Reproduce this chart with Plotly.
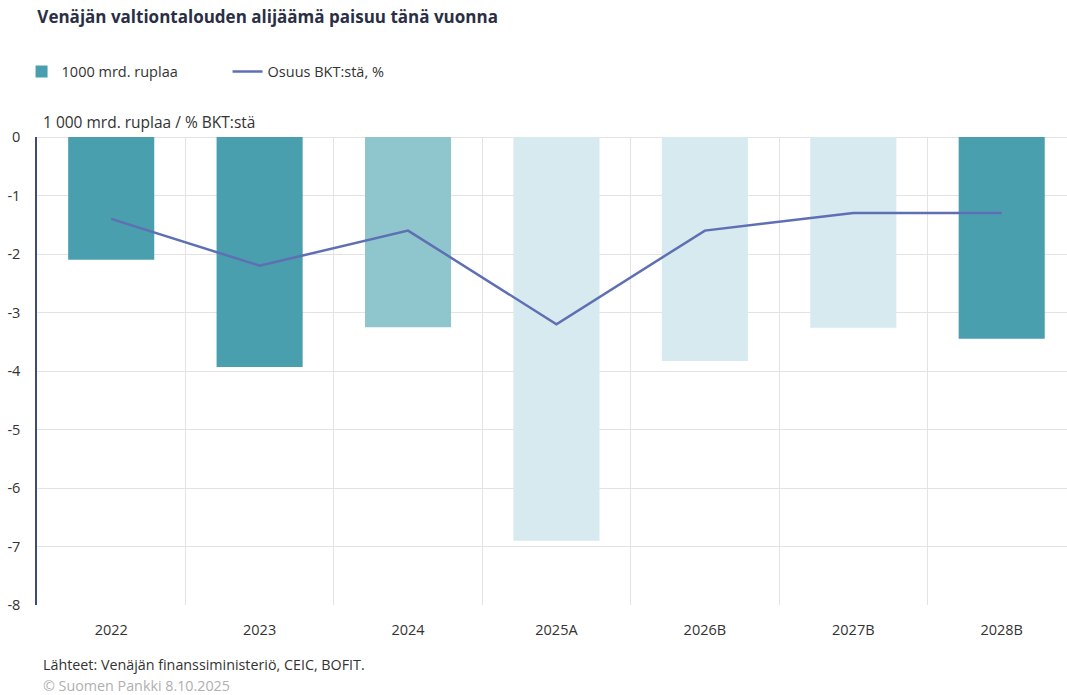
import plotly.graph_objects as go

categories = ["2022", "2023", "2024", "2025A", "2026B", "2027B", "2028B"]
deficit_trn_rub = [-2.1, -3.93, -3.25, -6.9, -3.83, -3.26, -3.45]
share_of_gdp = [-1.4, -2.2, -1.6, -3.2, -1.6, -1.3, -1.3]
bar_colors = ["#4a9fae", "#4a9fae", "#8fc6ce", "#d6eaef", "#d6eaef", "#d6eaef", "#4a9fae"]
y_ticks = [0, -1, -2, -3, -4, -5, -6, -7, -8]
y_ticktext = ["0", "-1", "-2", "-3", "-4", "-5", "-6", "-7", "-8"]

FONT = "Open Sans"
xpos = list(range(len(categories)))

fig = go.Figure()
fig.add_trace(go.Bar(
    x=xpos, y=deficit_trn_rub, name="1000 mrd. ruplaa",
    marker=dict(color=bar_colors, line=dict(width=0)), width=0.58,
))
fig.add_trace(go.Scatter(
    x=xpos, y=share_of_gdp, name="Osuus BKT:stä, %", mode="lines",
    line=dict(color="#5f6fb3", width=2.5),
))

fig.update_layout(
    width=1067, height=695,
    margin=dict(l=37, r=0, t=137, b=90, autoexpand=False),
    paper_bgcolor="white", plot_bgcolor="white",
    font=dict(family=FONT, color="#333333", size=14),
    title=dict(text="<b>Venäjän valtiontalouden alijäämä paisuu tänä vuonna</b>",
               x=0.035, xanchor="left", y=0.975, yanchor="middle",
               font=dict(family=FONT, size=17, color="#2b2f45")),
    showlegend=True,
    legend=dict(orientation="h", x=-0.015, xanchor="left", y=1.14, yanchor="middle",
                entrywidth=161, entrywidthmode="pixels",
                font=dict(family=FONT, size=14.5, color="#333333"),
                itemwidth=30, tracegroupgap=0),
    bargap=0.4,
)
fig.update_xaxes(
    range=[-0.5, 6.44], tickvals=xpos, ticktext=categories,
    showgrid=False, zeroline=False, showline=False, ticks="",
    tickfont=dict(size=14.5, color="#333333"), ticklabelstandoff=14,
    minor=dict(tickvals=[i + 0.5 for i in range(len(categories))], showgrid=True,
               gridcolor="#e3e3e3", gridwidth=1, ticks=""),
)
fig.update_yaxes(
    range=[-8, 0], tickvals=y_ticks, ticktext=y_ticktext,
    showgrid=True, gridcolor="#e3e3e3", gridwidth=1,
    zeroline=True, zerolinecolor="#e3e3e3", zerolinewidth=1,
    showline=True, linecolor="#3d4a7a", linewidth=1.5, mirror=False,
    ticks="", tickfont=dict(size=14.5, color="#333333"), ticklabelstandoff=12,
)
fig.add_annotation(text="1 000 mrd. ruplaa / % BKT:stä", xref="paper", yref="paper",
                   x=0.004, y=1.0, xanchor="left", yanchor="bottom", yshift=2,
                   showarrow=False, font=dict(family=FONT, size=15.5, color="#333333"))
fig.add_annotation(text="Lähteet: Venäjän finanssiministeriö, CEIC, BOFIT.", xref="paper", yref="paper",
                   x=0.004, y=-0.128, xanchor="left", yanchor="middle",
                   showarrow=False, font=dict(family=FONT, size=14.3, color="#333333"))
fig.add_annotation(text="© Suomen Pankki 8.10.2025", xref="paper", yref="paper",
                   x=0.004, y=-0.172, xanchor="left", yanchor="middle",
                   showarrow=False, font=dict(family=FONT, size=14.3, color="#b0b0b0"))

fig.write_html("out.html", config={"displayModeBar": False},
               post_script="document.body.style.margin='0';")
